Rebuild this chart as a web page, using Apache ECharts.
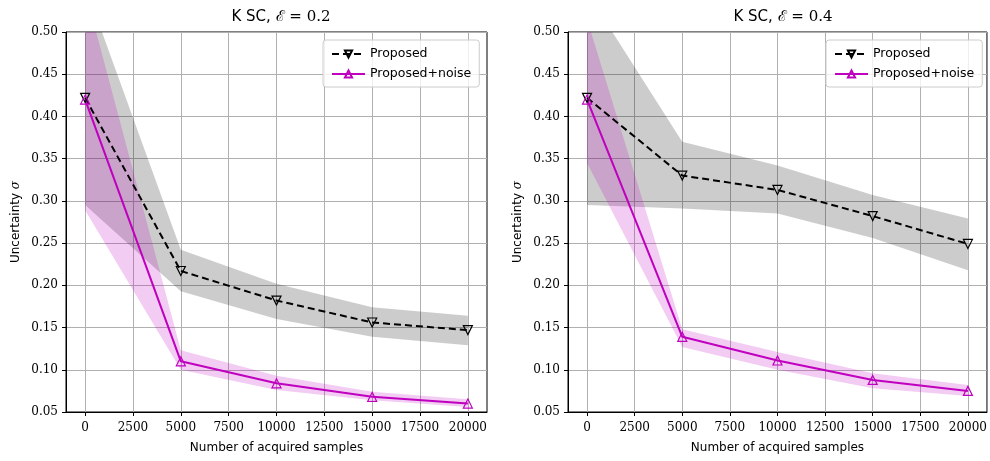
<!DOCTYPE html>
<html>
<head>
<meta charset="utf-8">
<script src="https://cdn.jsdelivr.net/npm/echarts@6/dist/echarts.min.js"></script>
<style>html,body{margin:0;padding:0;background:#fff}#c{width:990px;height:461px}</style>
</head>
<body>
<div id="c"></div>
<script>
// ---- data ----
const xValues = [0, 5000, 10000, 15000, 20000];
const xTickValues = [0, 2500, 5000, 7500, 10000, 12500, 15000, 17500, 20000];
const titles = ['0.2', '0.4'];

// E = 0.2
const proposedA   = [0.422, 0.217, 0.182, 0.156, 0.147];
const proposedLoA = [0.295, 0.193, 0.160, 0.139, 0.129];
const proposedHiA = [0.555, 0.242, 0.202, 0.174, 0.164];
const noiseA      = [0.420, 0.110, 0.084, 0.068, 0.060];
const noiseLoA    = [0.289, 0.100, 0.076, 0.064, 0.056];
const noiseHiA    = [0.549, 0.123, 0.093, 0.074, 0.065];

// E = 0.4
const proposedB   = [0.422, 0.330, 0.313, 0.282, 0.249];
const proposedLoB = [0.295, 0.291, 0.285, 0.256, 0.218];
const proposedHiB = [0.547, 0.370, 0.342, 0.307, 0.279];
const noiseB      = [0.420, 0.139, 0.111, 0.088, 0.075];
const noiseLoB    = [0.345, 0.127, 0.100, 0.078, 0.069];
const noiseHiB    = [0.515, 0.148, 0.121, 0.096, 0.082];

// ---- build ----
const SANS = 'DejaVu Sans';
const SERIF = 'DejaVu Serif';
const MAG = '#bf00bf';

const panels = [
  {p: proposedA, pl: proposedLoA, ph: proposedHiA, n: noiseA, nl: noiseLoA, nh: noiseHiA, left: 66, width: 421, legendLeft: 323, titleX: 276},
  {p: proposedB, pl: proposedLoB, ph: proposedHiB, n: noiseB, nl: noiseLoB, nh: noiseHiB, left: 568, width: 421, legendLeft: 826, titleX: 778}
];

const pairs = (ys) => xValues.map((x, i) => [x, ys[i]]);
const bandRows = (lo, hi) => xValues.map((x, i) => [x, lo[i], hi[i]]);

function bandSeries(k, lo, hi, color) {
  return {
    type: 'custom', xAxisIndex: k, yAxisIndex: k, silent: true, z: 1, clip: true,
    encode: {x: 0, y: [1, 2]},
    data: bandRows(lo, hi),
    renderItem: function (params, api) {
      if (params.dataIndex !== 0) return null;
      const upper = xValues.map((x, i) => api.coord([x, hi[i]]));
      const lower = xValues.map((x, i) => api.coord([x, lo[i]])).reverse();
      const cs = params.coordSys;
      return {
        type: 'polygon',
        shape: {points: upper.concat(lower)},
        style: {fill: color, stroke: null},
        clipPath: {type: 'rect', shape: {x: cs.x, y: cs.y, width: cs.width, height: cs.height}}
      };
    }
  };
}

const option = {
  animation: false,
  backgroundColor: '#fff',
  title: [], grid: [], xAxis: [], yAxis: [], legend: [], series: []
};

panels.forEach((P, k) => {
  option.title.push({
    text: 'K SC, {m|\u2130 = ' + titles[k] + '}',
    left: P.titleX, top: 5, textAlign: 'center',
    textStyle: {fontFamily: SANS, fontSize: 15, fontWeight: 'normal', color: '#000',
      rich: {m: {fontFamily: SERIF, fontSize: 15, color: '#000'}}}
  });
  option.grid.push({left: P.left, width: P.width, top: 32, height: 380,
    show: true, borderColor: '#000', borderWidth: 1, backgroundColor: 'transparent'});
  option.xAxis.push({
    type: 'value', gridIndex: k, min: -1000, max: 21000,
    name: 'Number of acquired samples', nameLocation: 'middle', nameGap: 30,
    nameTextStyle: {fontFamily: SANS, fontSize: 12, color: '#000'},
    axisLine: {show: true, onZero: false, lineStyle: {color: '#000', width: 1}},
    axisTick: {show: true, inside: false, length: 4, customValues: xTickValues, lineStyle: {color: '#000'}},
    axisLabel: {customValues: xTickValues, margin: 10, fontFamily: SERIF, fontSize: 12, color: '#000',
      formatter: v => String(v)},
    splitLine: {show: true, customValues: xTickValues, lineStyle: {color: '#b0b0b0', width: 1}}
  });
  option.yAxis.push({
    type: 'value', gridIndex: k, min: 0.05, max: 0.5, interval: 0.05,
    name: 'Uncertainty {s|\u03c3}', nameLocation: 'middle', nameGap: 44,
    nameTextStyle: {fontFamily: SANS, fontSize: 12, color: '#000',
      rich: {s: {fontFamily: SERIF, fontStyle: 'italic', fontSize: 12, color: '#000'}}},
    axisLine: {show: true, onZero: false, lineStyle: {color: '#000', width: 1}},
    axisTick: {show: true, inside: false, length: 4, lineStyle: {color: '#000'}},
    axisLabel: {margin: 8, fontFamily: SERIF, fontSize: 12, color: '#000', formatter: v => v.toFixed(2)},
    splitLine: {show: true, lineStyle: {color: '#b0b0b0', width: 1}}
  });
  option.legend.push({
    orient: 'vertical', left: P.legendLeft, top: 40,
    data: [{name: 'Proposed'}, {name: 'Proposed+noise'}],
    itemWidth: 33, itemHeight: 9, itemGap: 6,
    padding: [7, 8, 6, 8],
    backgroundColor: 'rgba(255,255,255,0.8)', borderColor: '#cccccc', borderWidth: 1, borderRadius: 3,
    textStyle: {fontFamily: SANS, fontSize: 12.5, color: '#000', lineHeight: 14}
  });
  option.series.push(
    bandSeries(k, P.pl, P.ph, 'rgba(0,0,0,0.2)'),
    bandSeries(k, P.nl, P.nh, 'rgba(191,0,191,0.2)'),
    {
      name: 'Proposed', type: 'line', xAxisIndex: k, yAxisIndex: k, data: pairs(P.p), clip: true, z: 3,
      symbol: 'triangle', symbolRotate: 180, symbolSize: 9, showSymbol: true,
      lineStyle: {color: '#000', width: 2, type: [7, 4]},
      itemStyle: {color: 'rgba(255,255,255,0)', borderColor: '#000', borderWidth: 1.2}
    },
    {
      name: 'Proposed+noise', type: 'line', xAxisIndex: k, yAxisIndex: k, data: pairs(P.n), clip: true, z: 3,
      symbol: 'triangle', symbolSize: 9, showSymbol: true,
      lineStyle: {color: MAG, width: 2},
      itemStyle: {color: 'rgba(255,255,255,0)', borderColor: MAG, borderWidth: 1.2}
    }
  );
});

const chart = echarts.init(document.getElementById('c'), null, {renderer: 'canvas'});
chart.setOption(option);
</script>
</body>
</html>
